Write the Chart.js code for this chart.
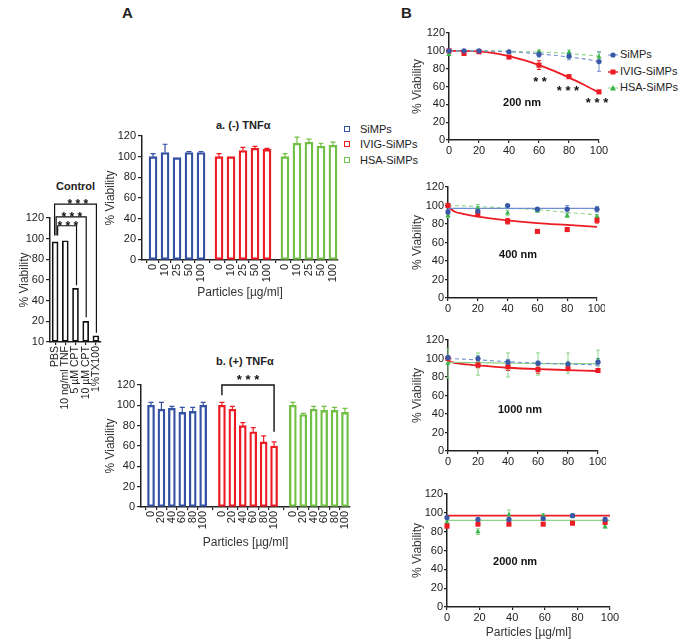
<!DOCTYPE html>
<html><head><meta charset="utf-8">
<script src="https://cdn.jsdelivr.net/npm/chart.js@4.4.0/dist/chart.umd.min.js"></script>
<style>
body{margin:0;width:685px;height:644px;background:#fff;position:relative;overflow:hidden;font-family:"Liberation Sans",Arial,Helvetica,sans-serif;color:#222;}
canvas{position:absolute;}
.t{position:absolute;white-space:nowrap;line-height:1;}
.b{font-weight:bold;}
.sq{position:absolute;width:4px;height:4px;border:1.6px solid;}
</style></head><body>

<div class="t b" style="left:122px;top:5px;font-size:15px;">A</div>
<div class="t b" style="left:401px;top:5px;font-size:15px;">B</div>
<div class="t b" style="left:56px;top:181px;font-size:11px;">Control</div>
<div class="t b" style="left:216px;top:120px;font-size:11px;">a. (-) TNFα</div>
<div class="t b" style="left:216px;top:356px;font-size:11px;">b. (+) TNFα</div>

<div class="sq" style="left:344px;top:126px;border-color:#3452a3"></div>
<div class="t" style="left:360px;top:124px;font-size:11px;">SiMPs</div>
<div class="sq" style="left:344px;top:141px;border-color:#ec1c24"></div>
<div class="t" style="left:360px;top:139px;font-size:11px;">IVIG-SiMPs</div>
<div class="sq" style="left:344px;top:157px;border-color:#71bf44"></div>
<div class="t" style="left:360px;top:155px;font-size:11px;">HSA-SiMPs</div>

<svg style="position:absolute;left:605px;top:48px" width="16" height="46">
  <line x1="3" y1="7" x2="13" y2="7" stroke="#6f8fd0" stroke-width="1"/>
  <circle cx="8" cy="7" r="2.6" fill="#3a58a8"/>
  <line x1="3" y1="24" x2="13" y2="24" stroke="#ec1c24" stroke-width="1.5"/>
  <rect x="5.5" y="21.5" width="5" height="5" fill="#ec1c24"/>
  <line x1="3" y1="40" x2="13" y2="40" stroke="#8cd48a" stroke-width="1"/>
  <polygon points="8,37 11,42.5 5,42.5" fill="#39b54a"/>
</svg>
<div class="t" style="left:620px;top:49px;font-size:11px;">SiMPs</div>
<div class="t" style="left:620px;top:66px;font-size:11px;">IVIG-SiMPs</div>
<div class="t" style="left:620px;top:82px;font-size:11px;">HSA-SiMPs</div>

<script>
// ---------------- DATA ----------------
const ctrlLabels = ['PBS', '10 ng/ml TNF', '5 µM CPT', '10 µM CPT', '1%TX100'];
const ctrlValues = [97, 98, 52, 20, 6];

const concA = ['0', '10', '25', '50', '100'];
const aSiMPs = [100, 104, 99, 104, 104];
const aSiMPsErr = [3, 8, 0, 1, 1];
const aIVIG = [100, 100, 106, 108, 107];
const aIVIGErr = [3, 0, 3, 2, 1];
const aHSA = [100, 113, 114, 110, 111];
const aHSAErr = [3, 6, 3, 3, 3];

const concB = ['0', '20', '40', '60', '80', '100'];
const bSiMPs = [100, 96, 97, 93, 94, 100];
const bSiMPsErr = [3, 7, 2, 5, 4, 3];
const bIVIG = [100, 96, 80, 74, 64, 60];
const bIVIGErr = [3, 3, 3, 4, 6, 4];
const bHSA = [100, 91, 96, 95, 95, 93];
const bHSAErr = [3, 1, 3, 4, 3, 4];

// 200 nm
const x200 = [0, 10, 20, 40, 60, 80, 100];
const s200 = [100, 100, 100, 99, 96, 94, 88];
const s200Err = [1, 1, 1, 1, 3, 4, 11];
const i200 = [100, 97, 99, 93, 84, 71, 54];
const i200Err = [1, 2, 1, 1, 5, 2, 1];
const h200 = [96, 99, 98, 99, 99, 98, 93];
const h200Err = [1, 1, 1, 1, 2, 3, 5];
const fitX200 = [0, 10, 20, 30, 40, 50, 60, 70, 80, 90, 100];
const s200Fit = [100, 100, 100, 99.5, 99, 98, 96.5, 95, 93, 91, 88];
const i200Fit = [100, 100, 99.5, 97.5, 94, 89.5, 84, 77.5, 70, 62, 53];
const h200Fit = [100, 100, 100, 100, 99.5, 99, 98.5, 98, 97, 95.5, 94];

// 400 nm
const x400 = [0, 20, 40, 60, 80, 100];
const s400 = [93, 94, 100, 96, 96, 96];
const s400Err = [3, 3, 1, 1, 4, 3];
const i400 = [100, 91, 83, 72, 74, 84];
const i400Err = [2, 3, 3, 1, 2, 3];
const h400 = [89, 97, 92, 94, 89, 88];
const h400Err = [2, 4, 3, 1, 2, 2];
const fitX400 = [0, 20, 40, 60, 80, 100];
const s400Fit = [97, 97, 97, 97, 97, 97];
const h400Fit = [100, 99, 97, 95.5, 92.5, 90];
const fitX400r = [0, 5, 10, 20, 40, 60, 80, 100];
const i400Fit = [98, 93, 91, 88, 84, 81, 79, 77];

// 1000 nm
const x1000 = [0, 20, 40, 60, 80, 100];
const s1000 = [101, 100, 96, 95, 94, 96];
const s1000Err = [2, 3, 3, 2, 2, 4];
const i1000 = [100, 93, 91, 88, 89, 87];
const i1000Err = [2, 3, 4, 4, 2, 2];
const h1000 = [95, 94, 93, 94, 95, 98];
const h1000Err = [16, 12, 13, 12, 11, 11];
const fitX1000 = [0, 20, 40, 60, 80, 100];
const s1000Fit = [100, 98.5, 96.5, 95, 94, 93];
const h1000Fit = [96, 95.5, 95, 94.5, 94.5, 94.5];
const fitX1000r = [0, 5, 10, 20, 40, 60, 80, 100];
const i1000Fit = [97, 95, 94, 92.5, 90, 88.5, 87.5, 86.5];

// 2000 nm
const x2000 = [0, 19, 38, 59, 77, 97];
const s2000 = [95, 93, 93, 94, 97, 93];
const s2000Err = [2, 1, 2, 1, 2, 2];
const i2000 = [86, 88, 88, 88, 89, 90];
const i2000Err = [2, 1, 1, 1, 1, 2];
const h2000 = [90, 80, 98, 97, 96, 85];
const h2000Err = [2, 3, 5, 2, 1, 1];
const fitX2000 = [0, 100];
const i2000Fit = [97, 97];
const h2000Fit = [92, 92];

// ---------------- STYLE / HELPERS ----------------
const FONT = '"Liberation Sans", Arial, Helvetica, sans-serif';
Chart.defaults.font.family = FONT;
Chart.defaults.color = '#222';

const C = {blue:'#3452a3', red:'#ec1c24', green:'#71bf44',
  pBlue:'#3a58a8', fBlue:'#6f8fd0', pRed:'#ec1c24', pGreen:'#39b54a', fGreen:'#8cd48a'};

const errPlugin = {
  id: 'err',
  beforeDatasetsDraw(chart) {
    const ctx = chart.ctx, ys = chart.scales.y;
    chart.data.datasets.forEach((ds, di) => {
      if (!ds.err) return;
      const meta = chart.getDatasetMeta(di);
      ctx.save();
      ctx.strokeStyle = ds.errColor || ds.borderColor;
      ctx.lineWidth = ds.errWidth || 1.2;
      const cap = ds.errCap || 2.5;
      meta.data.forEach((el, i) => {
        const e = ds.err[i];
        if (!e) return;
        const v = ds.data[i].y;
        const x = el.x;
        const y0 = ys.getPixelForValue(v), y1 = ys.getPixelForValue(v + e), y2 = ys.getPixelForValue(v - e);
        ctx.beginPath();
        ctx.moveTo(x, y0); ctx.lineTo(x, y1);
        ctx.moveTo(x - cap, y1); ctx.lineTo(x + cap, y1);
        if (ds.errBoth) { ctx.moveTo(x, y0); ctx.lineTo(x, y2); ctx.moveTo(x - cap, y2); ctx.lineTo(x + cap, y2); }
        ctx.stroke();
      });
      ctx.restore();
    });
  }
};

const annoPlugin = {
  id: 'anno',
  afterDraw(chart, args, o) {
    const ctx = chart.ctx, xs = chart.scales.x, ys = chart.scales.y;
    ctx.save();
    (o.lines || []).forEach(l => {
      ctx.beginPath(); ctx.strokeStyle = l.color || '#111'; ctx.lineWidth = l.width || 1.2;
      l.pts.forEach((p, i) => {
        const X = xs.getPixelForValue(p[0]), Y = ys.getPixelForValue(p[1]);
        if (i) ctx.lineTo(X, Y); else ctx.moveTo(X, Y);
      });
      ctx.stroke();
    });
    (o.texts || []).forEach(t => {
      ctx.font = t.font; ctx.fillStyle = t.color || '#111';
      ctx.textAlign = 'center'; ctx.textBaseline = t.baseline || 'middle';
      ctx.fillText(t.text, xs.getPixelForValue(t.x), ys.getPixelForValue(t.y) + (t.dy || 0));
    });
    ctx.restore();
  }
};
Chart.register(errPlugin, annoPlugin);

function mk(box, area, cfg) {
  const c = document.createElement('canvas');
  c.width = box[2]; c.height = box[3];
  c.style.left = box[0] + 'px'; c.style.top = box[1] + 'px';
  c.style.width = box[2] + 'px'; c.style.height = box[3] + 'px';
  document.body.appendChild(c);
  const yW = area[0] - box[0], xH = box[1] + box[3] - area[3];
  const o = cfg.options;
  o.responsive = false; o.animation = false; o.devicePixelRatio = 1;
  o.layout = {padding: {left: 0, top: area[1] - box[1], right: box[0] + box[2] - area[2], bottom: 0}};
  o.scales.x.afterFit = s => { s.height = xH; s.paddingLeft = 0; s.paddingRight = 0; };
  o.scales.y.afterFit = s => { s.width = yW; s.paddingTop = 0; s.paddingBottom = 0; };
  o.plugins = Object.assign({legend: {display: false}, tooltip: {enabled: false}}, o.plugins || {});
  return new Chart(c, cfg);
}

function yAx(extra) {
  return Object.assign({
    type: 'linear', min: 0, max: 120,
    ticks: {stepSize: 20, font: {size: 11}, color: '#222', padding: 2},
    grid: {drawOnChartArea: false, drawTicks: true, tickLength: 4, color: '#222', lineWidth: 1.2},
    border: {display: true, color: '#222', width: 1.5},
    title: {display: true, text: '% Viability', font: {size: 12}, color: '#333', padding: 0}
  }, extra || {});
}

function xBarAx(min, max, positions, labels) {
  return {
    type: 'linear', min, max, offset: false,
    afterBuildTicks: s => { s.ticks = positions.map(v => ({value: v})); },
    ticks: {autoSkip: false, maxRotation: 90, minRotation: 90, font: {size: 11}, color: '#222', padding: 1,
      callback: (v, i) => labels[i]},
    grid: {drawOnChartArea: false, drawTicks: true, tickLength: 3, color: '#222', lineWidth: 1.2},
    border: {display: true, color: '#222', width: 1.5},
    title: {display: true, text: 'Particles [µg/ml]', font: {size: 12}, color: '#333', padding: 0}
  };
}

function barDs(vals, errs, color, g, step, thick) {
  return {
    data: vals.map((v, i) => ({x: g * step + i, y: v})),
    err: errs, errColor: color, errCap: 2.5, errWidth: 1.2,
    backgroundColor: '#fff', borderColor: color, borderWidth: 2.3,
    barThickness: thick, grouped: false, borderSkipped: false
  };
}

// ---------------- CONTROL ----------------
mk([17, 190, 93, 232], [50, 218, 101, 342], {
  type: 'bar',
  data: {labels: ctrlLabels, datasets: [{data: ctrlValues, backgroundColor: '#fff', borderColor: '#111',
    borderWidth: 1.7, barThickness: 6, borderSkipped: false}]},
  options: {
    scales: {
      x: {type: 'category', offset: true,
        ticks: {autoSkip: false, maxRotation: 90, minRotation: 90, font: {size: 10.5}, color: '#222', padding: 1},
        grid: {drawOnChartArea: false, drawTicks: true, tickLength: 3, color: '#222', lineWidth: 1.2, offset: false},
        border: {display: true, color: '#222', width: 1.5}},
      y: yAx({ticks: {stepSize: 20, font: {size: 11}, color: '#222', padding: 2,
        callback: v => (v === 0 ? '10' : String(v))}})
    },
    plugins: {anno: {
      lines: [
        {pts: [[0.25, 103], [0.25, 112.5], [2.1, 112.5], [2.1, 55]]},
        {pts: [[0.1, 103], [0.1, 121], [3.05, 121], [3.05, 24]]},
        {pts: [[-0.05, 103], [-0.05, 133.5], [4.05, 133.5], [4.05, 9]]}
      ],
      texts: [
        {x: 1.25, y: 112.5, dy: 4, baseline: 'alphabetic', text: '* * *', font: 'bold 12px ' + FONT},
        {x: 1.65, y: 121, dy: 4, baseline: 'alphabetic', text: '* * *', font: 'bold 12px ' + FONT},
        {x: 2.23, y: 133.5, dy: 3.5, baseline: 'alphabetic', text: '* * *', font: 'bold 12px ' + FONT}
      ]
    }}
  }
});

// ---------------- PANEL a ----------------
const stepA = 5.5;
const posA = [], labA = [];
[0, 1, 2].forEach(g => concA.forEach((c, i) => { posA.push(g * stepA + i); labA.push(c); }));
mk([103, 128, 242, 172], [142, 136, 338, 260], {
  type: 'bar',
  data: {datasets: [
    barDs(aSiMPs, aSiMPsErr, C.blue, 0, stepA, 8),
    barDs(aIVIG, aIVIGErr, C.red, 1, stepA, 8),
    barDs(aHSA, aHSAErr, C.green, 2, stepA, 8)
  ]},
  options: {scales: {x: xBarAx(-0.92, 15.42, posA, labA), y: yAx()}}
});

// ---------------- PANEL b ----------------
const stepB = 6.8;
const posB = [], labB = [];
[0, 1, 2].forEach(g => concB.forEach((c, i) => { posB.push(g * stepB + i); labB.push(c); }));
const r0 = stepB, r5 = stepB + 5;
mk([103, 368, 257, 182], [141, 385, 350, 507], {
  type: 'bar',
  data: {datasets: [
    barDs(bSiMPs, bSiMPsErr, C.blue, 0, stepB, 7),
    barDs(bIVIG, bIVIGErr, C.red, 1, stepB, 7),
    barDs(bHSA, bHSAErr, C.green, 2, stepB, 7)
  ]},
  options: {
    scales: {x: xBarAx(-0.96, 19.08, posB, labB), y: yAx()},
    plugins: {anno: {
      lines: [{pts: [[r0, 110], [r0, 120], [r5, 120], [r5, 74]], width: 1.4}],
      texts: [{x: (r0 + r5) / 2, y: 120, dy: -1, baseline: 'alphabetic', text: '* * *', font: 'bold 13px ' + FONT}]
    }}
  }
});

// ---------------- PANEL B ----------------
function pts(xs, ys) { return xs.map((x, i) => ({x, y: ys[i]})); }
function pDs(xs, ys, err, color, style, r, errColor) {
  return {type: 'scatter', data: pts(xs, ys), err, errBoth: true, errColor: errColor || color, errWidth: 1, errCap: 2,
    pointStyle: style, pointRadius: r, pointBackgroundColor: color, pointBorderColor: color, pointBorderWidth: 0,
    showLine: false, clip: false};
}
function fDs(xs, ys, color, dash, w) {
  return {type: 'scatter', data: pts(xs, ys), showLine: true, pointRadius: 0, borderColor: color,
    borderWidth: w || 1.2, borderDash: dash || [], tension: 0.4, cubicInterpolationMode: 'monotone', clip: false};
}
function bChart(box, area, datasets, anno, xTitle) {
  return mk(box, area, {
    type: 'scatter',
    data: {datasets},
    options: {
      scales: {
        x: {type: 'linear', min: 0, max: 100,
          ticks: {stepSize: 20, font: {size: 11}, color: '#222', padding: 1},
          grid: {drawOnChartArea: false, drawTicks: true, tickLength: 3, color: '#222', lineWidth: 1.2},
          border: {display: true, color: '#222', width: 1.5},
          title: {display: !!xTitle, text: 'Particles [µg/ml]', font: {size: 12}, color: '#333', padding: 0}},
        y: yAx({ticks: {stepSize: 20, font: {size: 11}, color: '#222', padding: 1},
          grid: {drawOnChartArea: false, drawTicks: true, tickLength: 3, color: '#222', lineWidth: 1.2}})
      },
      plugins: {anno}
    }
  });
}
const nmFont = 'bold 11px ' + FONT, starFont = 'bold 13px ' + FONT;

bChart([410, 25, 202, 135], [449, 33, 599, 140], [
  pDs(x200, s200, s200Err, C.pBlue, 'circle', 2.6, C.fBlue),
  pDs(x200, i200, i200Err, C.pRed, 'rect', 3.6),
  pDs(x200, h200, h200Err, C.pGreen, 'triangle', 3, C.fGreen),
  fDs(fitX200, s200Fit, C.fBlue, [4, 3], 1.1),
  fDs(fitX200, h200Fit, C.fGreen, [4, 3], 1.1),
  fDs(fitX200, i200Fit, C.pRed, [], 1.8)
], {texts: [
  {x: 48.7, y: 41.5, text: '200 nm', font: nmFont},
  {x: 60.7, y: 61, baseline: 'alphabetic', text: '* *', font: starFont},
  {x: 79.3, y: 50, baseline: 'alphabetic', text: '* * *', font: starFont},
  {x: 98.7, y: 36.5, baseline: 'alphabetic', text: '* * *', font: starFont}
]});

bChart([410, 179, 195, 136], [448, 187, 597, 298], [
  pDs(x400, s400, s400Err, C.pBlue, 'circle', 2.6, C.fBlue),
  pDs(x400, i400, i400Err, C.pRed, 'rect', 3.6),
  pDs(x400, h400, h400Err, C.pGreen, 'triangle', 3, C.fGreen),
  fDs(fitX400, s400Fit, C.fBlue, [], 1.2),
  fDs(fitX400, h400Fit, C.fGreen, [4, 3], 1.1),
  fDs(fitX400r, i400Fit, C.pRed, [], 1.8)
], {texts: [{x: 47, y: 46, text: '400 nm', font: nmFont}]});

bChart([410, 332, 196, 139], [448, 340, 598, 451], [
  pDs(x1000, s1000, s1000Err, C.pBlue, 'circle', 2.6, C.fBlue),
  pDs(x1000, i1000, i1000Err, C.pRed, 'rect', 3.6),
  pDs(x1000, h1000, h1000Err, C.pGreen, 'triangle', 3, C.fGreen),
  fDs(fitX1000, s1000Fit, C.fBlue, [4, 3], 1.1),
  fDs(fitX1000, h1000Fit, C.fGreen, [], 1.1),
  fDs(fitX1000r, i1000Fit, C.pRed, [], 1.8)
], {texts: [{x: 48, y: 44, text: '1000 nm', font: nmFont}]});

bChart([410, 486, 210, 154], [447, 494, 610, 607], [
  pDs(x2000, s2000, s2000Err, C.pBlue, 'circle', 2.6, C.fBlue),
  pDs(x2000, i2000, i2000Err, C.pRed, 'rect', 3.6),
  pDs(x2000, h2000, h2000Err, C.pGreen, 'triangle', 3, C.fGreen),
  fDs(fitX2000, h2000Fit, C.fGreen, [], 1.1),
  fDs(fitX2000, i2000Fit, C.pRed, [], 1.8)
], {texts: [{x: 41.8, y: 48, text: '2000 nm', font: nmFont}]}, true);
</script>
</body></html>
